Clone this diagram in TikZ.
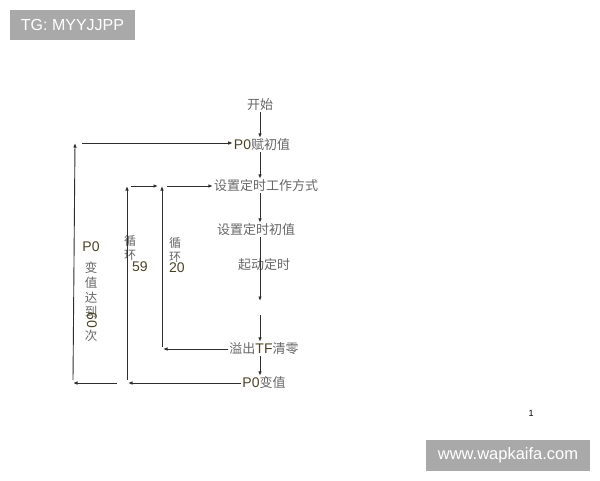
\documentclass[tikz,border=0pt]{standalone}
\usepackage{fontspec}
\setmainfont{Liberation Sans}
\newfontfamily\cjk{Noto Sans CJK SC}
\usetikzlibrary{arrows.meta}
\definecolor{cntext}{HTML}{666666}
\definecolor{latxt}{HTML}{4A4426}
\definecolor{wmgray}{HTML}{A9A9A9}
\definecolor{linec}{HTML}{2E2E2E}
\newcommand{\zh}[1]{{\cjk\color{cntext}#1}}
\newcommand{\la}[1]{{\color{latxt}#1}}
\tikzset{
  lbl/.style={inner sep=1pt, font=\fontsize{13}{13}\selectfont},
  vlb/.style={inner sep=0pt, font=\fontsize{12.5}{12.5}\selectfont},
  flow/.style={draw=linec, line width=0.9pt},
  arr/.style={flow, -{Latex[length=4.5pt,width=3.6pt]}},
  wm/.style={fill=wmgray, text=white, inner sep=0pt, font=\fontsize{16}{16}\selectfont}
}
\begin{document}
\begin{tikzpicture}[x=1pt,y=-1pt]
\useasboundingbox (0,0) rectangle (600,480);
% watermarks
\node[wm, minimum width=125pt, minimum height=30pt] (tg) at (72.5,25) {TG: MYYJJPP};
\node[wm, minimum width=164pt, minimum height=31pt] (web) at (508,455.5) {\fontsize{16.5}{16.5}\selectfont www.wapkaifa.com};
\node[inner sep=0pt, font=\fontsize{9}{9}\selectfont] (pg) at (531,413) {1};
% flow nodes
\node[lbl] (start) at (260,105) {\zh{开始}};
\node[lbl] (p0init) at (262,145) {\la{\fontsize{14}{14}\selectfont P0}\zh{赋初值}};
\node[lbl] (mode) at (266,186) {\zh{设置定时工作方式}};
\node[lbl] (initval) at (256,230) {\zh{设置定时初值}};
\node[lbl] (startt) at (264,265) {\zh{起动定时}};
\node[lbl] (ovf) at (264,349) {\zh{溢出}\la{\fontsize{14}{14}\selectfont TF}\zh{清零}};
\node[lbl] (p0chg) at (264,383) {\la{\fontsize{14}{14}\selectfont P0}\zh{变值}};
% loop labels
\node[vlb] (lp0) at (91,247) {\la{\fontsize{14}{14}\selectfont P0}};
\node[vlb] (lb1) at (91,268) {\zh{变}};
\node[vlb] (lb2) at (91,283) {\zh{值}};
\node[vlb] (lb3) at (91,298) {\zh{达}};
\node[vlb] (lb4) at (91,312) {\zh{到}};
\node[vlb, rotate=-90] (lb6) at (92,320) {\la{\fontsize{14}{14}\selectfont 60}};
\node[vlb] (lb5) at (91,336) {\zh{次}};
\node[vlb] (la1) at (130,241) {\zh{\fontsize{12}{12}\selectfont 循}};
\node[vlb] (la2) at (130,255) {\zh{\fontsize{12}{12}\selectfont 环}};
\node[vlb] (la3) at (140,267) {\la{\fontsize{14}{14}\selectfont 59}};
\node[vlb] (lc1) at (175,243) {\zh{\fontsize{12}{12}\selectfont 循}};
\node[vlb] (lc2) at (175,257) {\zh{\fontsize{12}{12}\selectfont 环}};
\node[vlb] (lc3) at (177,268) {\la{\fontsize{14}{14}\selectfont 20}};
% coordinates
\coordinate (c1) at (260,301);
\coordinate (c2) at (260,315);
\coordinate (m1) at (128,383);
\coordinate (o1) at (117,383);
\coordinate (o2) at (73,383);
\coordinate (o3) at (73,380);
\coordinate (o4) at (75,143);
\coordinate (o5) at (82,143);
\coordinate (m2) at (127,380);
\coordinate (m3) at (127,186);
\coordinate (m4) at (131,186);
\coordinate (m5) at (158,186);
\coordinate (i1) at (163,349);
\coordinate (i2) at (162,347);
\coordinate (i3) at (162,186);
\coordinate (i4) at (167,186);
% main flow
\draw[arr] (start.south) -- (start.south |- p0init.north);
\draw[arr] (p0init.south -| start) -- (mode.north -| start);
\draw[arr] (mode.south -| start) -- (initval.north -| start);
\draw[arr] (initval.south -| start) -- (c1);
\draw[arr] (c2) -- (ovf.north -| start);
\draw[arr] (ovf.south -| start) -- (p0chg.north -| start);
% outer loop
\draw[arr] (p0chg.west) -- (m1);
\draw[arr] (o1) -- (o2);
\draw[arr] (o3) -- (o4);
\draw[arr] (o5) -- (p0init.west |- o5);
% middle loop
\draw[arr] (m2) -- (m3);
\draw[arr] (m4) -- (m5);
% inner loop
\draw[arr] (ovf.west) -- (i1);
\draw[arr] (i2) -- (i3);
\draw[arr] (i4) -- (mode.west |- i4);
\end{tikzpicture}
\end{document}
